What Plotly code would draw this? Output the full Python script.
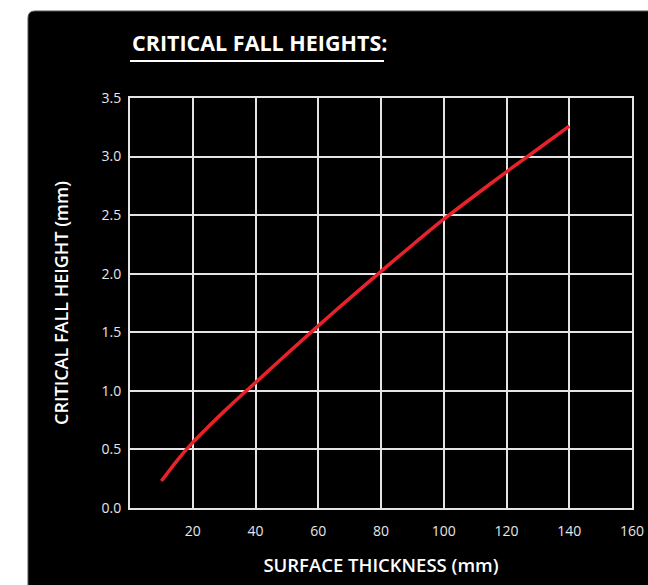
import plotly.graph_objects as go

thickness_mm = [10, 15, 20, 25, 30, 35, 40, 50, 60, 70, 80, 90, 100, 110, 120, 130, 140]
fall_height = [0.23, 0.405, 0.56, 0.695, 0.825, 0.95, 1.07, 1.315, 1.555, 1.79, 2.02, 2.245, 2.465, 2.67, 2.87, 3.065, 3.26]

x_ticks = [20, 40, 60, 80, 100, 120, 140, 160]
y_ticks = [0.0, 0.5, 1.0, 1.5, 2.0, 2.5, 3.0, 3.5]

title_text = "CRITICAL FALL HEIGHTS:"
x_title = "SURFACE THICKNESS (mm)"
y_title = "CRITICAL FALL HEIGHT (mm)"

FONT = "'Open Sans', Lato, sans-serif"
GRID = "#e4e4e4"

fig = go.Figure()
fig.add_trace(go.Scatter(
    x=thickness_mm, y=fall_height, mode="lines",
    line=dict(color="#e8222a", width=3.5, shape="spline", smoothing=0.7),
    hoverinfo="x+y", showlegend=False,
))

# plot area: x 130..632, y 98.5..508
L, R, T, B = 130, 16, 98, 77
pw, ph = 648 - L - R, 585 - T - B

def px(xp):
    return (xp - L) / pw

def py(yp):
    return (585 - B - yp) / ph

bx0, by1 = px(28), py(11)
rx, ry = 7 / pw, 7 / ph
path = (f"M {bx0},{py(700)} L {bx0},{by1 - ry} Q {bx0},{by1} {bx0 + rx},{by1} "
        f"L {px(760)},{by1} L {px(760)},{py(700)} Z")

fig.update_layout(
    width=648, height=585,
    margin=dict(l=L, r=R, t=T, b=B, autoexpand=False),
    paper_bgcolor="white", plot_bgcolor="rgba(0,0,0,0)",
    font=dict(family=FONT, color="#e0e0e0", size=13),
    shapes=[
        dict(type="path", path=path, xref="paper", yref="paper",
             fillcolor="black", line=dict(color="#555555", width=1), layer="below"),
        dict(type="line", xref="paper", yref="paper",
             x0=0, x1=px(384), y0=py(61), y1=py(61),
             line=dict(color="white", width=2)),
    ],
    annotations=[
        dict(text=title_text, xref="paper", yref="paper",
             x=0, y=py(42), xanchor="left", yanchor="middle", showarrow=False,
             font=dict(family=FONT, size=21.5, color="white", weight=700)),
    ],
    xaxis=dict(
        range=[0, 160], tickvals=x_ticks, ticktext=[str(v) for v in x_ticks],
        showgrid=True, gridcolor=GRID, gridwidth=2,
        showline=True, linecolor=GRID, linewidth=2, mirror=True,
        zeroline=False, ticks="outside", ticklen=9, tickcolor="black",
        tickfont=dict(size=14, color="#e6e6e6"), automargin=False,
        title=dict(text=x_title, font=dict(size=18.5, color="white", weight=600), standoff=20),
    ),
    yaxis=dict(
        range=[0, 3.5], tickvals=y_ticks, ticktext=[f"{v:.1f}" for v in y_ticks],
        showgrid=True, gridcolor=GRID, gridwidth=2,
        showline=True, linecolor=GRID, linewidth=2, mirror=True,
        zeroline=False, ticks="outside", ticklen=4, tickcolor="black",
        tickfont=dict(size=14, color="#e6e6e6"), automargin=False,
        title=dict(text=y_title, font=dict(size=18, color="white", weight=600), standoff=28),
    ),
)

fig.write_html("out.html", config={"displayModeBar": False},
               post_script="document.body.style.margin='0';")
